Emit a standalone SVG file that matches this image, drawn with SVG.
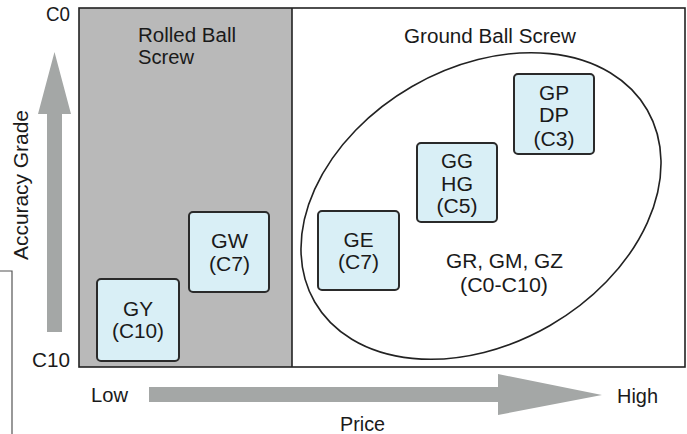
<svg xmlns="http://www.w3.org/2000/svg" width="687" height="434" viewBox="0 0 687 434">
<style>
  text { font-family: "Liberation Sans", Arial, sans-serif; font-size: 20px; fill: #1a1a1a; }
  .c { text-anchor: middle; }
  .node rect { fill: #d9eff6; stroke: #2a2a2a; stroke-width: 2; }
  .arrow { fill: #a4a7a6; }
</style>
<rect x="0" y="0" width="687" height="434" fill="#ffffff"/>
<g id="frame">
  <rect x="79" y="8" width="213" height="359" fill="#b9b9b9"/>
  <rect x="79" y="8" width="606" height="359" fill="none" stroke="#222" stroke-width="1.6"/>
  <line x1="292" y1="8" x2="292" y2="367" stroke="#222" stroke-width="1.6"/>
  <polyline points="0,271 12,271 12,434" fill="none" stroke="#555" stroke-width="1.2"/>
</g>
<g id="axes">
  <polygon class="arrow" points="47,332 47,114 38,114 54.5,52 71,114 62,114 62,332"/>
  <polygon class="arrow" points="149,387 498,387 498,374 602,395 498,415 498,402 149,402"/>
  <text x="46" y="21" textLength="24" lengthAdjust="spacingAndGlyphs">C0</text>
  <text x="32" y="367" textLength="38" lengthAdjust="spacingAndGlyphs">C10</text>
  <text transform="translate(28,260) rotate(-90)" x="0" y="0" textLength="150" lengthAdjust="spacingAndGlyphs">Accuracy Grade</text>
  <text x="91" y="402" textLength="37" lengthAdjust="spacingAndGlyphs">Low</text>
  <text x="617" y="403" textLength="41" lengthAdjust="spacingAndGlyphs">High</text>
  <text x="340" y="431" textLength="45" lengthAdjust="spacingAndGlyphs">Price</text>
</g>
<g id="rolled-label">
  <text x="138" y="42" textLength="98" lengthAdjust="spacingAndGlyphs">Rolled Ball</text>
  <text x="138" y="64" textLength="56" lengthAdjust="spacingAndGlyphs">Screw</text>
</g>
<g id="ground-label">
  <text x="404" y="43" textLength="172" lengthAdjust="spacingAndGlyphs">Ground Ball Screw</text>
</g>
<g id="ground-ellipse">
  <ellipse cx="481" cy="206" rx="192" ry="138" transform="rotate(-30 481 206)" fill="none" stroke="#222" stroke-width="1.6"/>
  <text class="c" x="504.5" y="268" textLength="117" lengthAdjust="spacingAndGlyphs">GR, GM, GZ</text>
  <text class="c" x="504" y="292" textLength="88" lengthAdjust="spacingAndGlyphs">(C0-C10)</text>
</g>
<g id="node-gy" class="node">
  <rect x="97" y="279" width="82" height="82" rx="4"/>
  <text class="c" x="138" y="316" textLength="30" lengthAdjust="spacingAndGlyphs">GY</text>
  <text class="c" x="138" y="338" textLength="52" lengthAdjust="spacingAndGlyphs">(C10)</text>
</g>
<g id="node-gw" class="node">
  <rect x="189" y="212" width="80" height="80" rx="4"/>
  <text class="c" x="229.5" y="248" textLength="37" lengthAdjust="spacingAndGlyphs">GW</text>
  <text class="c" x="229.5" y="271" textLength="41" lengthAdjust="spacingAndGlyphs">(C7)</text>
</g>
<g id="node-ge" class="node">
  <rect x="318" y="211" width="81" height="79" rx="4"/>
  <text class="c" x="358.5" y="247" textLength="30" lengthAdjust="spacingAndGlyphs">GE</text>
  <text class="c" x="358.5" y="269" textLength="41" lengthAdjust="spacingAndGlyphs">(C7)</text>
</g>
<g id="node-gg" class="node">
  <rect x="417" y="143" width="80" height="79" rx="4"/>
  <text class="c" x="457" y="168" textLength="32" lengthAdjust="spacingAndGlyphs">GG</text>
  <text class="c" x="457" y="191" textLength="32" lengthAdjust="spacingAndGlyphs">HG</text>
  <text class="c" x="457" y="213" textLength="41" lengthAdjust="spacingAndGlyphs">(C5)</text>
</g>
<g id="node-gp" class="node">
  <rect x="514" y="74" width="80" height="80" rx="4"/>
  <text class="c" x="554" y="100" textLength="30" lengthAdjust="spacingAndGlyphs">GP</text>
  <text class="c" x="554" y="122" textLength="30" lengthAdjust="spacingAndGlyphs">DP</text>
  <text class="c" x="554" y="146" textLength="41" lengthAdjust="spacingAndGlyphs">(C3)</text>
</g>
<g id="connectors"></g>
</svg>
